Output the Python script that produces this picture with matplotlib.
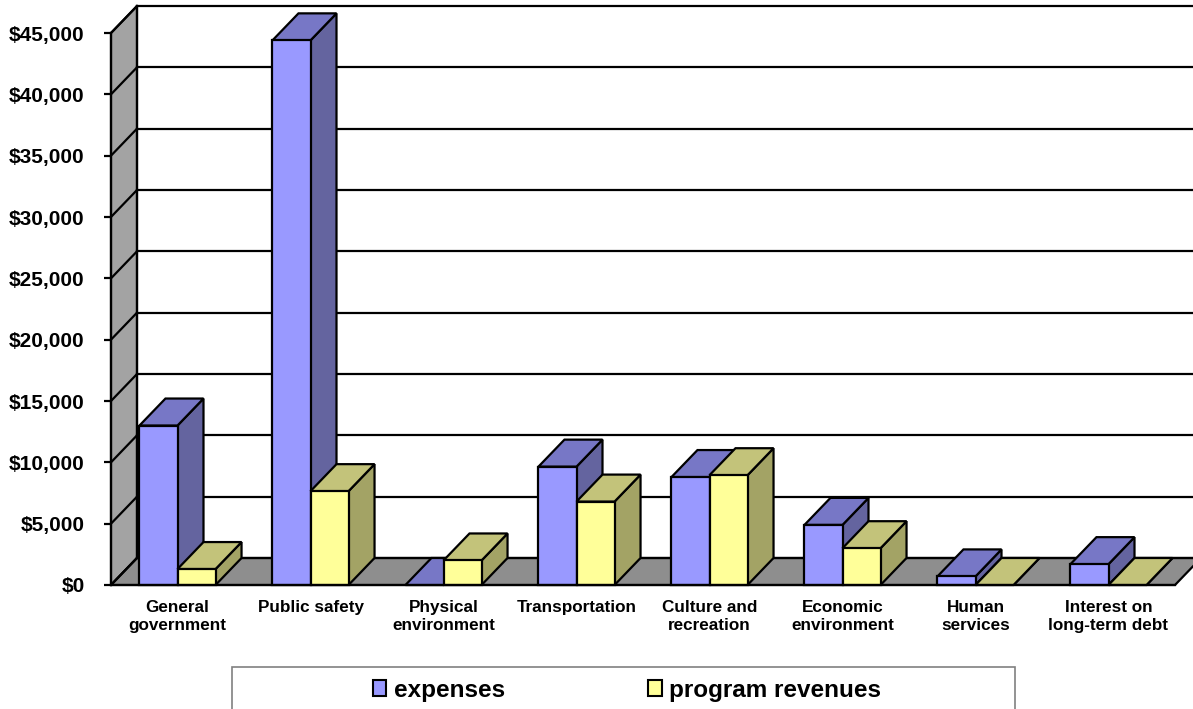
import matplotlib.pyplot as plt
from matplotlib.patches import Polygon, Patch, Rectangle

plt.rcParams['font.family'] = ['Liberation Sans', 'DejaVu Sans']
plt.rcParams['font.weight'] = 'bold'

## data (thousands of dollars)
categories = ['General\ngovernment', 'Public safety', 'Physical\nenvironment', 'Transportation',
              'Culture and\nrecreation', 'Economic\nenvironment', 'Human\nservices', 'Interest on\nlong-term debt']
expenses = [13000, 44400, 0, 9650, 8800, 4900, 700, 1700]
revenues = [1300, 7650, 2000, 6800, 8950, 3000, 0, 0]
series_names = ['expenses', 'program revenues']
yticks = list(range(0, 45001, 5000))

## colours: front, top, side
exp_cols = ('#9999FF', '#7777C6', '#64649F')
rev_cols = ('#FFFF99', '#C3C37A', '#A3A365')

W, H = 1193, 709
fig = plt.figure(figsize=(W / 100, H / 100), dpi=100)
ax = fig.add_axes([111 / W, 124 / H, 1064 / W, 552 / H])
ax.set_xlim(0, len(categories))
ax.set_ylim(0, 45000)

## oblique depth offset in data units
dx = 26 / 133
dy = 27 / 552 * 45000
ymax = yticks[-1]
nx = len(categories)
lw = 1.6

def poly(pts, fc, z):
	p = Polygon(pts, closed=True, facecolor=fc, edgecolor='black', lw=lw, joinstyle='miter', zorder=z, clip_on=False)
	ax.add_patch(p)

## side wall and floor
poly([(0, 0), (dx, dy), (dx, ymax + dy), (0, ymax)], '#A3A3A3', 1)
poly([(0, 0), (nx, 0), (nx + dx, dy), (dx, dy)], '#8E8E8E', 1)

## back wall gridlines + side wall diagonals
for t in yticks:
	ax.plot([dx, nx + dx + 1], [t + dy, t + dy], color='black', lw=lw, zorder=2, clip_on=False)
	ax.plot([0, dx], [t, t + dy], color='black', lw=lw, zorder=2, clip_on=False)
ax.plot([dx, dx], [dy, ymax + dy], color='black', lw=lw, zorder=2, clip_on=False)

## bars, drawn left to right so later ones cover earlier side faces
w = 0.286
z = 3
for i in range(nx):
	for j, (vals, cols) in enumerate([(expenses, exp_cols), (revenues, rev_cols)]):
		v = vals[i]
		x0 = i + 0.5 - w + j * w
		x1 = x0 + w
		poly([(x1, 0), (x1 + dx, dy), (x1 + dx, v + dy), (x1, v)], cols[2], z)
		poly([(x0, v), (x1, v), (x1 + dx, v + dy), (x0 + dx, v + dy)], cols[1], z)
		if v > 0:
			poly([(x0, 0), (x1, 0), (x1, v), (x0, v)], cols[0], z)
		z += 1

## axes
for s in ['top', 'right']:
	ax.spines[s].set_visible(False)
ax.spines['left'].set_linewidth(lw)
ax.spines['bottom'].set_linewidth(lw)
ax.spines['left'].set_zorder(50)
ax.spines['bottom'].set_zorder(50)
ax.set_yticks(yticks)
ax.set_yticklabels(['${:,}'.format(t) for t in yticks], fontsize=15, fontweight='bold')
ax.tick_params(axis='y', length=5, width=lw, pad=14)
ax.set_xticks([i + 0.5 for i in range(nx)])
ax.set_xticklabels(categories, fontsize=12.3, fontweight='bold', linespacing=1.2)
ax.tick_params(axis='x', length=0, pad=11)
ax.patch.set_visible(False)

## legend
fig.patches.append(Rectangle((232 / W, -0.05), (1015 - 232) / W, 0.05 + 42 / H, transform=fig.transFigure,
	facecolor='white', edgecolor='#808080', lw=1.2))
handles = [Patch(facecolor=exp_cols[0], edgecolor='black', lw=1.5),
	Patch(facecolor=rev_cols[0], edgecolor='black', lw=1.5)]
fig.legend(handles, series_names, loc='center', bbox_to_anchor=(627 / W, 1 - 690 / H), ncol=2, frameon=False,
	prop={'size': 17.5, 'weight': 'bold'}, handlelength=0.55, handleheight=0.6, handletextpad=0.3, columnspacing=5.9)

fig.savefig('out.png', dpi=100)
